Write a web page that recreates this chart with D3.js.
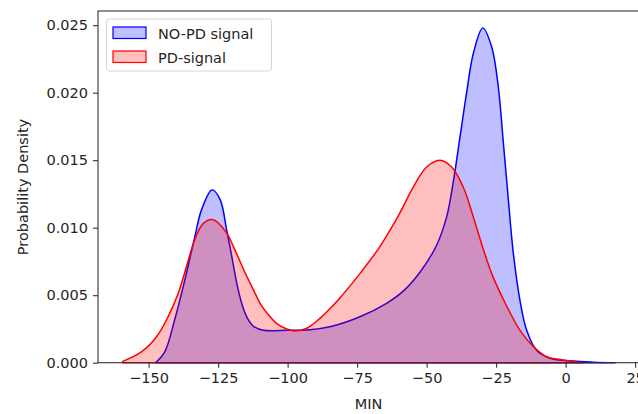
<!DOCTYPE html>
<html>
<head>
<meta charset="utf-8">
<script src="https://cdn.jsdelivr.net/npm/d3@7"></script>
<style>
  body { margin: 0; background: #fff; }
  text { font-family: "DejaVu Sans", sans-serif; fill: #262626; }
</style>
</head>
<body>
<svg></svg>
<script>
var w = 638;
var h = 414;

// KDE curves (x = MIN, y = density)
var noPdX = [-147.5, -144.2, -140.6, -137, -133.4, -131, -127.2, -124.3, -121.9, -120.1, -118.3, -116.5, -114.7, -112.3, -108.7, -100, -92, -84, -74, -64.4, -58.4, -52.4, -46.4, -42.8, -40.4, -38, -35.6, -33.2, -29.8, -26.6, -24.2, -22.4, -20.6, -18.8, -16.4, -14, -10.4, -5.6, 2.7, 10, 17.8];
var noPdY = [0, 0.0008, 0.0032, 0.0061, 0.0093, 0.0113, 0.0128, 0.0121, 0.0098, 0.0079, 0.0059, 0.0044, 0.0034, 0.0027, 0.0024, 0.0024, 0.00244, 0.0027, 0.0034, 0.0044, 0.0053, 0.0067, 0.0087, 0.0108, 0.0134, 0.0167, 0.0200, 0.0229, 0.0248, 0.0234, 0.0204, 0.0163, 0.0121, 0.0081, 0.0046, 0.0024, 0.0009, 0.00033, 0.00012, 0.00004, 0];

var pdX = [-159.3, -152.6, -147.2, -143, -139.4, -136.4, -133.4, -130.4, -126.9, -121.9, -119.5, -117.1, -114.7, -112.3, -109.9, -107.5, -103.9, -100.3, -97.3, -93.1, -88.3, -81.2, -74, -66.8, -63.2, -59.6, -54.8, -50, -45.2, -41, -36.8, -33.2, -29.6, -26, -21.2, -16.4, -11.6, -6.8, -0.9, 6.2];
var pdY = [0.0001, 0.0008, 0.0019, 0.0034, 0.0051, 0.0071, 0.0091, 0.0103, 0.0106, 0.0096, 0.0086, 0.0075, 0.0064, 0.0054, 0.0044, 0.0037, 0.0029, 0.0025, 0.00235, 0.00255, 0.0033, 0.0048, 0.0066, 0.0086, 0.0098, 0.0111, 0.0130, 0.0145, 0.0150, 0.0145, 0.0130, 0.0108, 0.0084, 0.0063, 0.0042, 0.0024, 0.0012, 0.00044, 0.0002, 0];

var xTicks = [-150, -125, -100, -75, -50, -25, 0, 25];
var yTicks = [0, 0.005, 0.010, 0.015, 0.020, 0.025];
var seriesNames = ["NO-PD signal", "PD-signal"];
var seriesColors = ["#0000ff", "#ff0000"];

var svg = d3.select("svg").attr("width", w).attr("height", h);

var x = d3.scaleLinear().domain([-168.2, 26.4]).range([98, 639]);
var y = d3.scaleLinear().domain([0, 0.02605]).range([362.7, 11]);

var area = d3.area()
    .curve(d3.curveCatmullRom.alpha(0.5))
    .x(function(d) { return x(d[0]); })
    .y0(y(0))
    .y1(function(d) { return Math.min(y(d[1]), y(0)); });

var series = [
    d3.zip(noPdX, noPdY),
    d3.zip(pdX, pdY)
];

series.forEach(function(data, i) {
    svg.append("path").datum(data)
        .attr("d", area)
        .attr("fill", seriesColors[i])
        .attr("fill-opacity", 0.25)
        .attr("stroke", seriesColors[i])
        .attr("stroke-width", 1.5)
        .attr("stroke-linejoin", "round");
});

// axes
var fmtX = function(d) { return d < 0 ? "\u2212" + Math.abs(d) : d; };
var xAxis = d3.axisBottom(x).tickValues(xTicks).tickSize(5).tickPadding(5).tickFormat(fmtX);
var gx = svg.append("g").attr("transform", "translate(0,362.7)").call(xAxis);

var yAxis = d3.axisLeft(y).tickValues(yTicks).tickSize(5).tickPadding(5).tickFormat(d3.format(".3f"));
var gy = svg.append("g").attr("transform", "translate(98,0)").call(yAxis);

[gx, gy].forEach(function(g) {
    g.selectAll("text").style("font-size", "14.5px").style("font-family", "DejaVu Sans").attr("fill", "#262626");
    g.selectAll("line").attr("stroke", "#333").attr("stroke-width", 1.1);
    g.select(".domain").remove();
});

// spines
svg.append("rect")
    .attr("x", 98).attr("y", 11)
    .attr("width", 541).attr("height", 351.7)
    .attr("fill", "none")
    .attr("stroke", "#333")
    .attr("stroke-width", 1.1);

svg.append("text")
    .attr("x", 368.5).attr("y", 409)
    .style("text-anchor", "middle")
    .style("font-size", "14.5px")
    .text("MIN");

svg.append("text")
    .attr("transform", "translate(28,187) rotate(-90)")
    .style("text-anchor", "middle")
    .style("font-size", "14.5px")
    .text("Probability Density");

// legend
var lg = svg.append("g");
lg.append("rect")
    .attr("x", 106.5).attr("y", 19)
    .attr("width", 165).attr("height", 52)
    .attr("rx", 3)
    .attr("fill", "#fff").attr("fill-opacity", 0.8)
    .attr("stroke", "#d6d6d6");

seriesNames.forEach(function(name, i) {
    var yy = 27 + i * 24;
    lg.append("rect")
        .attr("x", 113).attr("y", yy)
        .attr("width", 33).attr("height", 11.5)
        .attr("fill", seriesColors[i]).attr("fill-opacity", 0.25)
        .attr("stroke", seriesColors[i]).attr("stroke-width", 1.2);
    lg.append("text")
        .attr("x", 158).attr("y", yy + 11.5)
        .style("font-size", "14.5px")
        .text(name);
});
</script>
</body>
</html>
